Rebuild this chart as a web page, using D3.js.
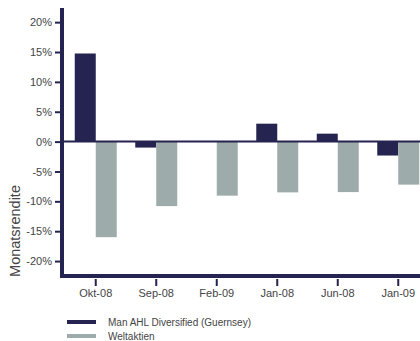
<!DOCTYPE html>
<html>
<head>
<meta charset="utf-8">
<script src="https://cdn.jsdelivr.net/npm/d3@7"></script>
<style>
  html, body { margin: 0; padding: 0; background: #fff; }
  svg { display: block; font-family: "Liberation Sans", Arial, Helvetica, sans-serif; }
</style>
</head>
<body>
<svg id="chart" width="420" height="341"></svg>
<script>
// Monthly returns (%) per month
const categories = ["Okt-08", "Sep-08", "Feb-09", "Jan-08", "Jun-08", "Jan-09"];
const seriesNames = ["Man AHL Diversified (Guernsey)", "Weltaktien"];
const manAhl = [14.75, -1.0, 0, 3.0, 1.33, -2.33];
const weltaktien = [-16.0, -10.8, -9.05, -8.5, -8.45, -7.2];
const yTicks = [20, 15, 10, 5, 0, -5, -10, -15, -20];
const colors = ["#25234f", "#9dabaa"];

const seriesValues = [manAhl, weltaktien];
const rows = categories.map((c, i) => ({
  cat: c,
  vals: seriesNames.map((s, k) => ({ key: s, value: seriesValues[k][i] }))
}));

const svg = d3.select("#chart");
const ink = "#25234f";
const textColor = "#444";

const y = d3.scaleLinear().domain([-22.5, 22.2]).range([276, 9]);
const x0 = d3.scaleBand().domain(categories).range([65.5, 428.5])
  .paddingInner(0.306).paddingOuter(0.153);
const x1 = d3.scaleBand().domain(seriesNames).range([0, x0.bandwidth()]);
const color = d3.scaleOrdinal().domain(seriesNames).range(colors);

// Bars
const groups = svg.append("g").selectAll("g").data(rows).join("g")
  .attr("transform", d => `translate(${x0(d.cat)},0)`);
groups.selectAll("rect").data(d => d.vals).join("rect")
  .attr("x", d => x1(d.key))
  .attr("width", x1.bandwidth())
  .attr("y", d => y(Math.max(0, d.value)))
  .attr("height", d => Math.abs(y(d.value) - y(0)))
  .attr("fill", d => color(d.key));

// Zero line
svg.append("line")
  .attr("x1", 62).attr("x2", 420)
  .attr("y1", y(0)).attr("y2", y(0))
  .attr("stroke", ink).attr("stroke-width", 2);

// Y axis
const yAxis = svg.append("g").attr("transform", "translate(61,0)")
  .call(d3.axisLeft(y).tickValues(yTicks).tickFormat(d => d + "%").tickSize(6).tickPadding(3).tickSizeOuter(0));
yAxis.select(".domain").remove();
yAxis.selectAll(".tick line").attr("stroke", ink).attr("stroke-width", 2);
yAxis.selectAll(".tick text").attr("fill", textColor)
  .style("font-size", "11px").style("font-family", "'Liberation Sans', Arial, sans-serif");

// X axis
const xAxis = svg.append("g").attr("transform", "translate(0,279)")
  .call(d3.axisBottom(x0).tickSize(7).tickPadding(3).tickSizeOuter(0));
xAxis.select(".domain").remove();
xAxis.selectAll(".tick line").attr("stroke", ink).attr("stroke-width", 2);
xAxis.selectAll(".tick text").attr("fill", textColor)
  .style("font-size", "11px").style("font-family", "'Liberation Sans', Arial, sans-serif");

// Heavy axis lines
svg.append("line").attr("x1", 62).attr("x2", 62).attr("y1", 8).attr("y2", 278)
  .attr("stroke", ink).attr("stroke-width", 4);
svg.append("line").attr("x1", 60).attr("x2", 420).attr("y1", 276).attr("y2", 276)
  .attr("stroke", ink).attr("stroke-width", 4);

// Y axis title
svg.append("text")
  .attr("transform", "translate(20,231) rotate(-90)")
  .attr("text-anchor", "middle")
  .attr("fill", textColor)
  .style("font-size", "14.5px")
  .text("Monatsrendite");

// Legend
const legend = svg.append("g").selectAll("g").data(seriesNames).join("g")
  .attr("transform", (d, i) => `translate(0,${322 + i * 14})`);
legend.append("line").attr("x1", 67).attr("x2", 96).attr("y1", 0).attr("y2", 0)
  .attr("stroke", d => color(d)).attr("stroke-width", 4);
legend.append("text").attr("x", 108).attr("y", 0).attr("dy", "0.35em")
  .attr("fill", textColor).style("font-size", "10px")
  .text(d => d);
</script>
</body>
</html>
